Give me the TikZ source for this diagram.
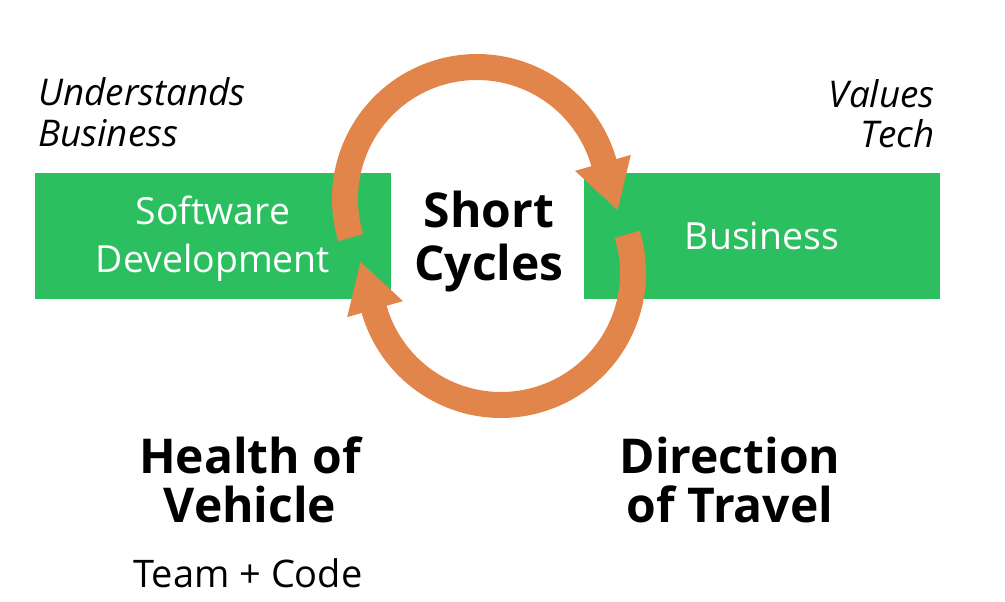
\documentclass[tikz,border=0pt]{standalone}
\usepackage{fontspec}
\setmainfont{Open Sans}
\usetikzlibrary{positioning}
\definecolor{boxgreen}{RGB}{43,191,95}
\definecolor{cycorange}{RGB}{226,133,74}
\begin{document}
\begin{tikzpicture}[x=.5pt,y=.5pt,
	box/.style={fill=boxgreen,minimum width=178pt,minimum height=63pt,inner sep=0pt,text=white,font=\fontsize{18.7}{24}\selectfont,align=center},
	cyc/.style={draw=cycorange,line width=13pt},
	head/.style={fill=cycorange},
	note/.style={font=\fontsize{18.4}{20.5}\selectfont\itshape,inner sep=0pt},
	title/.style={font=\fontsize{24}{24.5}\selectfont\bfseries,align=center,inner sep=0pt}]
	\useasboundingbox(0,0)rectangle(1005,601);
	\coordinate(C1)at(477,402);
	\coordinate(C2)at(501,328);
	\fill[boxgreen](35,302)rectangle(391,428);
	\node[box,fill=none,minimum height=0pt](SD)at(213,362.5){Software\\Development};
	\node[box](B)at(762,365.5){\raisebox{-1pt}{Business}};
	\draw[cyc]([shift={(197:132)}]C1)arc[start angle=197,end angle=15,radius=132];
	\fill[head]([shift={(16:102)}]C1)--([shift={(16:160)}]C1)--([shift={(-4.5:141)}]C1)--cycle;
	\draw[cyc]([shift={(17:132)}]C2)arc[start angle=17,end angle=-165,radius=132];
	\fill[head]([shift={(-164:102)}]C2)--([shift={(-164:160)}]C2)--([shift={(175.5:141)}]C2)--cycle;
	\node[title,font=\fontsize{24}{26.5}\selectfont\bfseries](SC)at(489,359){Short\\Cycles};
	\node[note,anchor=base west,align=left](UB)at(38,455){Understands\\Business};
	\node[note,anchor=base east,align=right](VT)at(935,453){Values\\Tech};
	\node[title,anchor=base](HV)at(250,79){Health of\\Vehicle};
	\node[anchor=base,inner sep=0pt,font=\fontsize{19}{24}\selectfont](TC)at(248,14){Team + Code};
	\node[title,anchor=base](DT)at(730,79){Direction\\of Travel};
\end{tikzpicture}
\end{document}
